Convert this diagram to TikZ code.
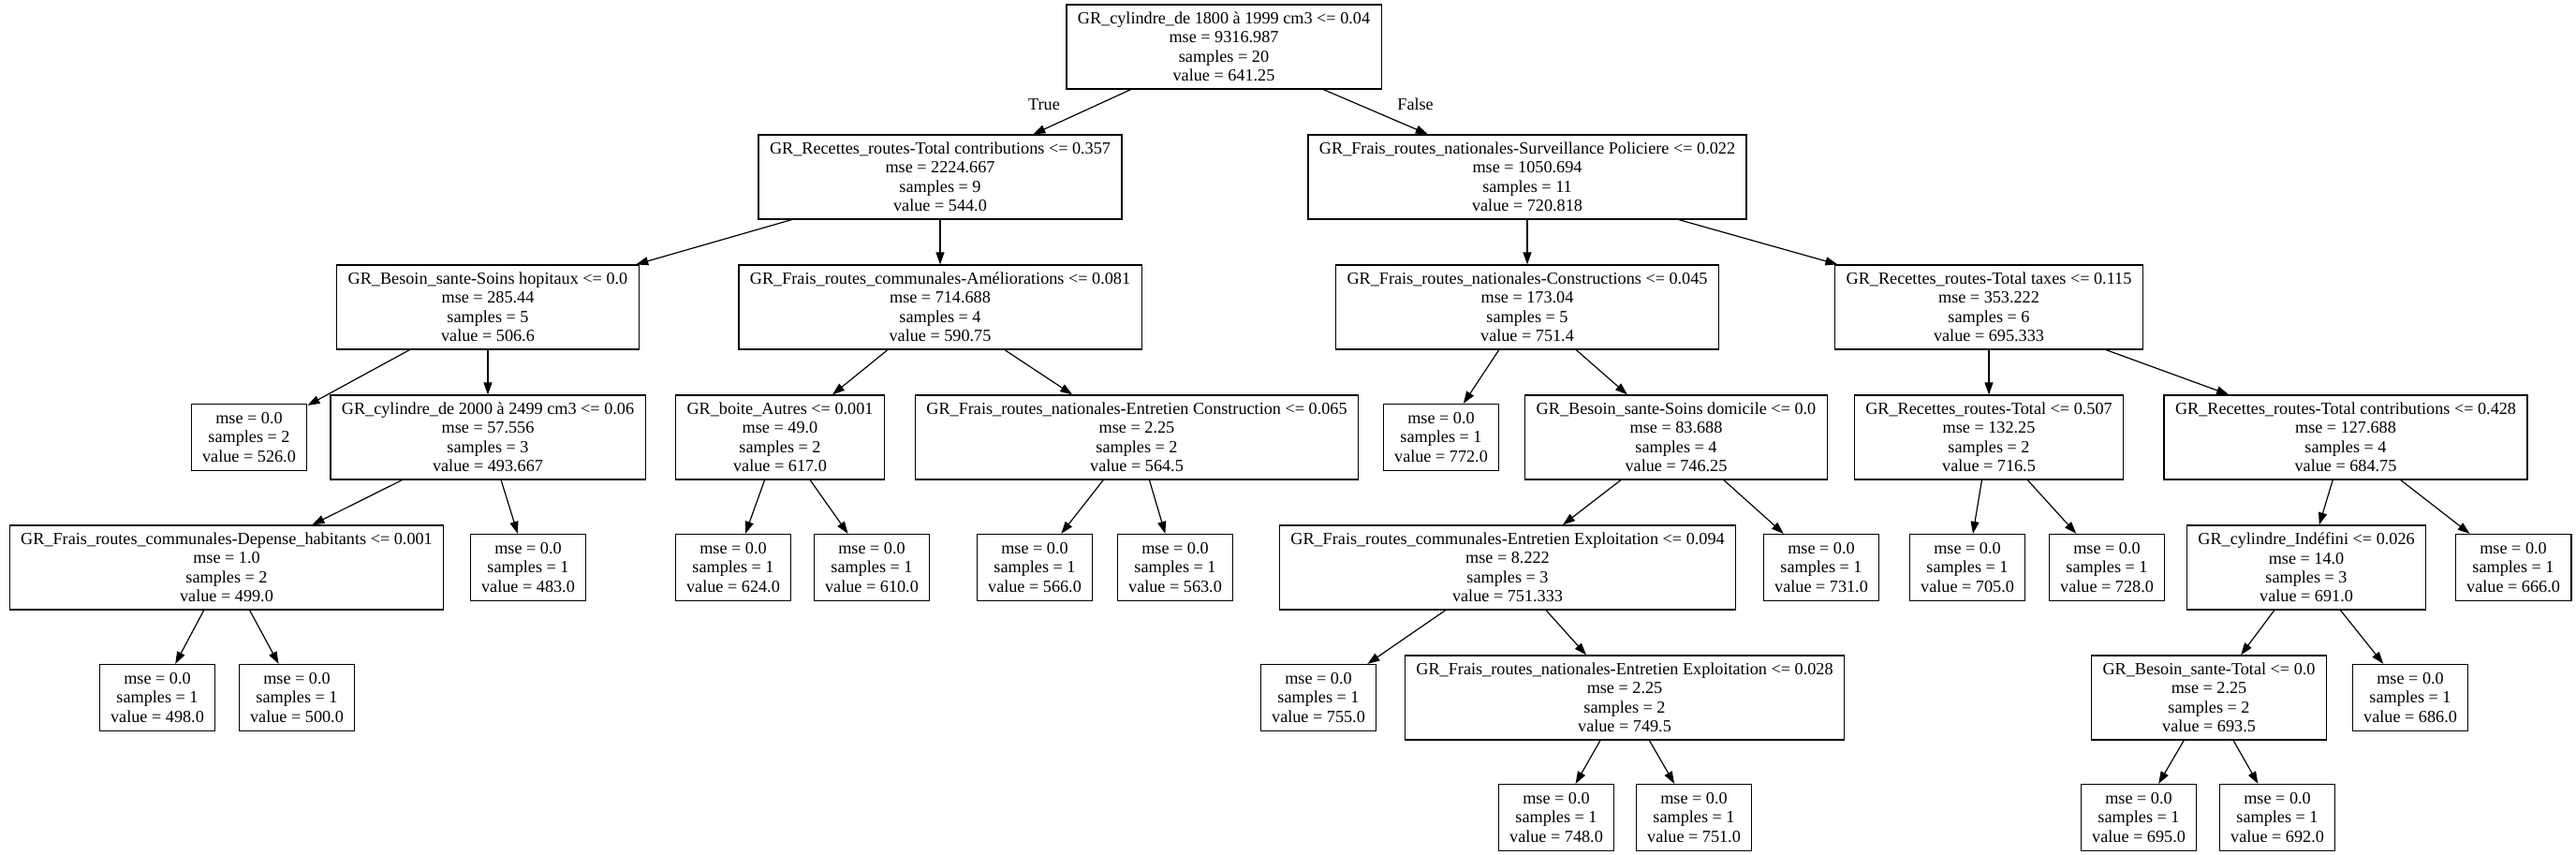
\documentclass[tikz,border=0pt]{standalone}
\usepackage{fontspec}
\setmainfont{Liberation Serif}
\usepackage{tikz}
\usetikzlibrary{arrows.meta,positioning}
\tikzset{>/.tip={Triangle[length=6.5pt,width=4.5pt]}}
\def\lv#1#2{mse = 0.0\\samples = #1\\value = #2}

\begin{document}
\begin{tikzpicture}[on grid,font=\fontsize{9.1}{10.2}\selectfont,
        split/.style={draw,line width=0.6pt,align=center,inner xsep=6pt,inner ysep=2pt,minimum height=45pt},
        leaf/.style={split,minimum height=35.5pt}]
        \useasboundingbox (0,0) rectangle (1375.5pt,-456.5pt);
        \node(root)[split] at (653.5pt,-25pt){GR\_cylindre\_de 1800 à 1999 cm3 <= 0.04\\mse = 9316.987\\samples = 20\\value = 641.25};
        \node(A)[split,below left=69.5pt and 151.5pt of root]{GR\_Recettes\_routes-Total contributions <= 0.357\\mse = 2224.667\\samples = 9\\value = 544.0};
        \node(B)[split,below right=69.5pt and 162pt of root]{GR\_Frais\_routes\_nationales-Surveillance Policiere <= 0.022\\mse = 1050.694\\samples = 11\\value = 720.818};
        \node(C)[split,below left=69.5pt and 241.5pt of A]{GR\_Besoin\_sante-Soins hopitaux <= 0.0\\mse = 285.44\\samples = 5\\value = 506.6};
        \node(D)[split,below=69.5pt of A]{GR\_Frais\_routes\_communales-Améliorations <= 0.081\\mse = 714.688\\samples = 4\\value = 590.75};
        \node(E)[split,below=69.5pt of B]{GR\_Frais\_routes\_nationales-Constructions <= 0.045\\mse = 173.04\\samples = 5\\value = 751.4};
        \node(F)[split,below right=69.5pt and 246.5pt of B]{GR\_Recettes\_routes-Total taxes <= 0.115\\mse = 353.222\\samples = 6\\value = 695.333};
        \node(G)[leaf,below left=69.5pt and 127.5pt of C]{\lv{2}{526.0}};
        \node(H)[split,below=69.5pt of C]{GR\_cylindre\_de 2000 à 2499 cm3 <= 0.06\\mse = 57.556\\samples = 3\\value = 493.667};
        \node(I)[split,below left=69.5pt and 85.5pt of D]{GR\_boite\_Autres <= 0.001\\mse = 49.0\\samples = 2\\value = 617.0};
        \node(J)[split,below right=69.5pt and 105pt of D]{GR\_Frais\_routes\_nationales-Entretien Construction <= 0.065\\mse = 2.25\\samples = 2\\value = 564.5};
        \node(K)[leaf,below left=69.5pt and 46pt of E]{\lv{1}{772.0}};
        \node(L)[split,below right=69.5pt and 79.5pt of E]{GR\_Besoin\_sante-Soins domicile <= 0.0\\mse = 83.688\\samples = 4\\value = 746.25};
        \node(M)[split,below=69.5pt of F]{GR\_Recettes\_routes-Total <= 0.507\\mse = 132.25\\samples = 2\\value = 716.5};
        \node(N)[split,below right=69.5pt and 190.5pt of F]{GR\_Recettes\_routes-Total contributions <= 0.428\\mse = 127.688\\samples = 4\\value = 684.75};
        \node(O)[split,below left=69.5pt and 139.5pt of H]{GR\_Frais\_routes\_communales-Depense\_habitants <= 0.001\\mse = 1.0\\samples = 2\\value = 499.0};
        \node(P)[leaf,below right=69.5pt and 21.5pt of H]{\lv{1}{483.0}};
        \node(Q)[leaf,below left=69.5pt and 25pt of I]{\lv{1}{624.0}};
        \node(R)[leaf,below right=69.5pt and 49pt of I]{\lv{1}{610.0}};
        \node(S)[leaf,below left=69.5pt and 54.5pt of J]{\lv{1}{566.0}};
        \node(T)[leaf,below right=69.5pt and 20.5pt of J]{\lv{1}{563.0}};
        \node(U)[split,below left=69.5pt and 90pt of L]{GR\_Frais\_routes\_communales-Entretien Exploitation <= 0.094\\mse = 8.222\\samples = 3\\value = 751.333};
        \node(V)[leaf,below right=69.5pt and 77.5pt of L]{\lv{1}{731.0}};
        \node(W)[leaf,below left=69.5pt and 11.5pt of M]{\lv{1}{705.0}};
        \node(X)[leaf,below right=69.5pt and 63pt of M]{\lv{1}{728.0}};
        \node(Y)[split,below left=69.5pt and 21pt of N]{GR\_cylindre\_Indéfini <= 0.026\\mse = 14.0\\samples = 3\\value = 691.0};
        \node(Z)[leaf,below right=69.5pt and 89.5pt of N]{\lv{1}{666.0}};
        \node(a)[leaf,below left=69.5pt and 37pt of O]{\lv{1}{498.0}};
        \node(b)[leaf,below right=69.5pt and 37.5pt of O]{\lv{1}{500.0}};
        \node(c)[leaf,below left=69.5pt and 101pt of U]{\lv{1}{755.0}};
        \node(d)[split,below right=69.5pt and 62.5pt of U]{GR\_Frais\_routes\_nationales-Entretien Exploitation <= 0.028\\mse = 2.25\\samples = 2\\value = 749.5};
        \node(e)[split,below left=69.5pt and 52pt of Y]{GR\_Besoin\_sante-Total <= 0.0\\mse = 2.25\\samples = 2\\value = 693.5};
        \node(f)[leaf,below right=69.5pt and 55.5pt of Y]{\lv{1}{686.0}};
        \node(g)[leaf,below left=64pt and 36.5pt of d]{\lv{1}{748.0}};
        \node(h)[leaf,below right=64pt and 37pt of d]{\lv{1}{751.0}};
        \node(i)[leaf,below left=64pt and 37.5pt of e]{\lv{1}{695.0}};
        \node(j)[leaf,below right=64pt and 36.5pt of e]{\lv{1}{692.0}};
        \draw[->,line width=0.6pt]
        (root) edge node[pos=0.33,left=17pt]{True} (A)
        (root) edge node[pos=0.33,right=17.5pt]{False} (B)
        (A) edge (C) (A) edge (D)
        (B) edge (E) (B) edge (F)
        (C) edge (G) (C) edge (H)
        (D) edge (I) (D) edge (J)
        (E) edge (K) (E) edge (L)
        (F) edge (M) (F) edge (N)
        (H) edge (O) (H) edge (P)
        (I) edge (Q) (I) edge (R)
        (J) edge (S) (J) edge (T)
        (L) edge (U) (L) edge (V)
        (M) edge (W) (M) edge (X)
        (N) edge (Y) (N) edge (Z)
        (O) edge (a) (O) edge (b)
        (U) edge (c) (U) edge (d)
        (Y) edge (e) (Y) edge (f)
        (d) edge (g) (d) edge (h)
        (e) edge (i) (e) edge (j);
      \end{tikzpicture}
\end{document}
